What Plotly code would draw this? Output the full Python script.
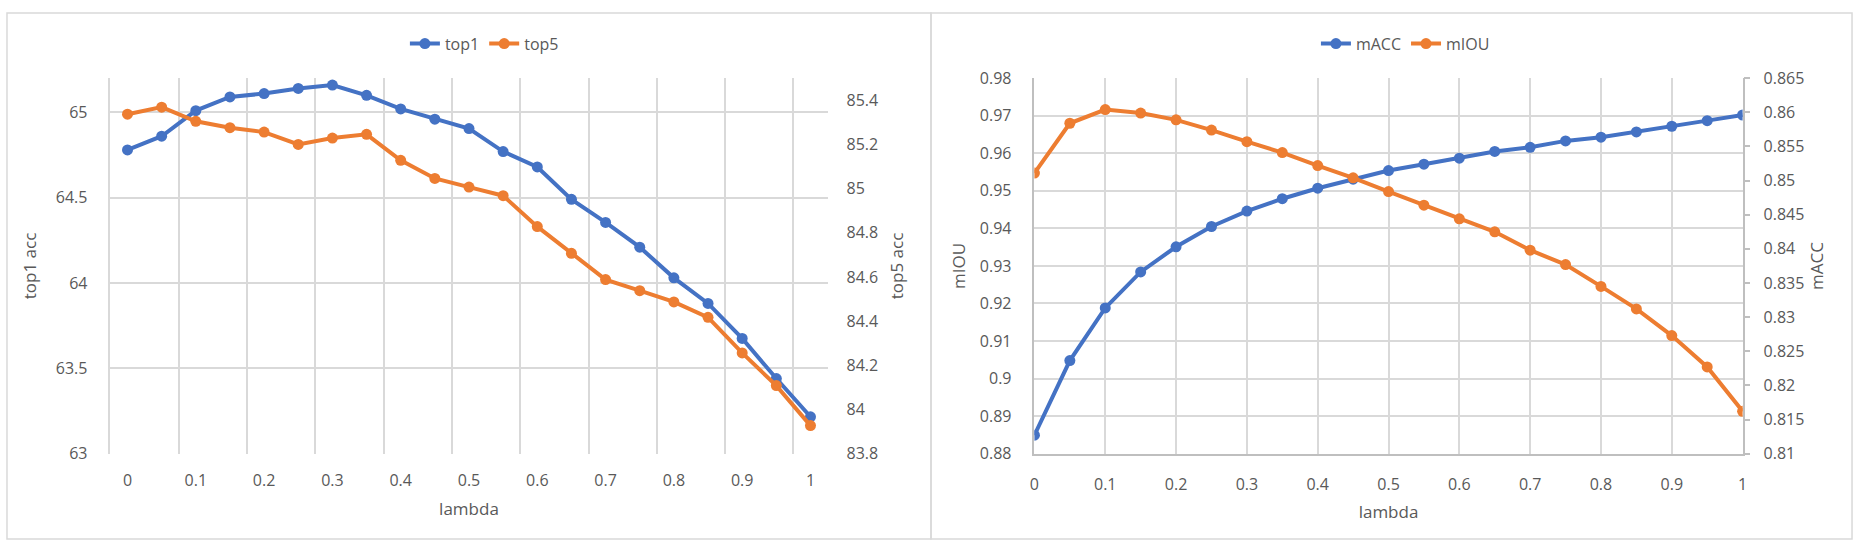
import plotly.graph_objects as go

# lambda values shared by both panels
lambdas = [0, 0.05, 0.1, 0.15, 0.2, 0.25, 0.3, 0.35, 0.4, 0.45, 0.5,
           0.55, 0.6, 0.65, 0.7, 0.75, 0.8, 0.85, 0.9, 0.95, 1]

# left panel: classification accuracy
top1 = [64.78, 64.86, 65.01, 65.09, 65.11, 65.14, 65.16, 65.10, 65.02, 64.96, 64.905,
        64.77, 64.68, 64.49, 64.355, 64.21, 64.03, 63.88, 63.675, 63.44, 63.216]
top5 = [85.337, 85.369, 85.305, 85.276, 85.256, 85.20, 85.229, 85.246, 85.128, 85.046, 85.007,
        84.968, 84.828, 84.707, 84.588, 84.538, 84.487, 84.417, 84.256, 84.108, 83.927]

# right panel: segmentation metrics
macc = [0.8849, 0.9048, 0.9188, 0.9284, 0.9351, 0.9405, 0.9446, 0.9479, 0.9507, 0.9531, 0.9554,
        0.9571, 0.9587, 0.9605, 0.9616, 0.9633, 0.9643, 0.9657, 0.9672, 0.9687, 0.9702]
miou = [0.8511, 0.8584, 0.8604, 0.8599, 0.8589, 0.8574, 0.8557, 0.8541, 0.8522, 0.8504, 0.8484,
        0.8464, 0.8444, 0.8425, 0.8398, 0.8377, 0.8345, 0.8312, 0.8273, 0.8227, 0.8162]

x_labels = ["0", "0.1", "0.2", "0.3", "0.4", "0.5", "0.6", "0.7", "0.8", "0.9", "1"]
x_label_vals = [0, 0.1, 0.2, 0.3, 0.4, 0.5, 0.6, 0.7, 0.8, 0.9, 1]
# category boundaries (Excel "between tick marks" style grid on the left panel)
x_grid_vals = [-0.025, 0.075, 0.175, 0.275, 0.375, 0.475, 0.575, 0.675, 0.775, 0.875, 0.975]

BLUE = "#4472C4"
ORANGE = "#ED7D31"
GRID = "#D9D9D9"
AXIS = "#BFBFBF"
TEXT = "#595959"
FONT = "Open Sans"

W, H = 1860, 552


def px_x(p):
    return p / W


def px_y(p):
    return 1 - p / H


fig = go.Figure()

line_style = dict(width=4)
marker_style = dict(size=11)

fig.add_trace(go.Scatter(x=lambdas, y=top1, name="top1", mode="lines+markers",
                         line=dict(color=BLUE, **line_style), marker=dict(color=BLUE, **marker_style),
                         xaxis="x", yaxis="y", legend="legend"))
fig.add_trace(go.Scatter(x=lambdas, y=top5, name="top5", mode="lines+markers",
                         line=dict(color=ORANGE, **line_style), marker=dict(color=ORANGE, **marker_style),
                         xaxis="x", yaxis="y2", legend="legend"))
fig.add_trace(go.Scatter(x=lambdas, y=macc, name="mACC", mode="lines+markers",
                         line=dict(color=BLUE, **line_style), marker=dict(color=BLUE, **marker_style),
                         xaxis="x2", yaxis="y3", legend="legend2"))
fig.add_trace(go.Scatter(x=lambdas, y=miou, name="mIOU", mode="lines+markers",
                         line=dict(color=ORANGE, **line_style), marker=dict(color=ORANGE, **marker_style),
                         xaxis="x2", yaxis="y4", legend="legend2"))

tick_font = dict(family=FONT, size=16, color=TEXT)
title_font = dict(family=FONT, size=17, color=TEXT)
legend_font = dict(family=FONT, size=16, color=TEXT)

left_dom = [px_x(106), px_x(827)]
right_dom = [px_x(1035), px_x(1747)]
y_dom = [px_y(461), px_y(70)]

fig.update_layout(
    width=W, height=H,
    margin=dict(l=0, r=0, t=0, b=0),
    paper_bgcolor="white", plot_bgcolor="white",
    font=dict(family=FONT, color=TEXT),
    xaxis=dict(
        domain=left_dom, anchor="y", range=[-0.025, 1.025],
        tickmode="array", tickvals=x_label_vals, ticktext=x_labels,
        showgrid=False, zeroline=False, ticks="", tickfont=tick_font,
        ticklabelstandoff=15,
        minor=dict(tickmode="array", tickvals=x_grid_vals, showgrid=True,
                   gridcolor=GRID, gridwidth=1.5, ticks=""),
        title=dict(text="lambda", font=title_font, standoff=13),
    ),
    yaxis=dict(
        domain=y_dom, anchor="x", range=[63, 65.2], dtick=0.5,
        showgrid=True, gridcolor=GRID, gridwidth=1.5, zeroline=False,
        showline=True, linecolor=GRID, linewidth=1.5,
        ticks="", tickfont=tick_font, ticklabelstandoff=18,
        title=dict(text="top1 acc", font=title_font, standoff=15),
    ),
    yaxis2=dict(
        overlaying="y", side="right", anchor="x", range=[83.8, 85.5], dtick=0.2,
        showgrid=False, zeroline=False, ticks="", tickfont=tick_font,
        ticklabelstandoff=18,
        title=dict(text="top5 acc", font=title_font, standoff=13),
    ),
    xaxis2=dict(
        domain=right_dom, anchor="y3", range=[0, 1],
        tickmode="array", tickvals=x_label_vals, ticktext=x_labels,
        showgrid=True, gridcolor=GRID, gridwidth=1.5, zeroline=False,
        showline=True, linecolor=AXIS, linewidth=1.5,
        ticks="", tickfont=tick_font, ticklabelstandoff=15,
        title=dict(text="lambda", font=title_font, standoff=13),
    ),
    yaxis3=dict(
        domain=y_dom, anchor="x2", range=[0.88, 0.98], dtick=0.01,
        showgrid=True, gridcolor=GRID, gridwidth=1.5, zeroline=False,
        showline=True, linecolor=AXIS, linewidth=1.5,
        ticks="", tickfont=tick_font, ticklabelstandoff=18,
        title=dict(text="mIOU", font=title_font, standoff=10),
    ),
    yaxis4=dict(
        overlaying="y3", side="right", anchor="x2", range=[0.81, 0.865], dtick=0.005,
        showgrid=False, zeroline=False,
        showline=True, linecolor=AXIS, linewidth=1.5,
        ticks="outside", ticklen=6, tickcolor=AXIS, tickwidth=1.5,
        tickfont=tick_font, ticklabelstandoff=10,
        title=dict(text="mACC", font=title_font, standoff=8),
    ),
    legend=dict(
        orientation="h", x=px_x(482), y=px_y(34), xanchor="center", yanchor="middle",
        font=legend_font, bgcolor="rgba(0,0,0,0)",
    ),
    legend2=dict(
        orientation="h", x=px_x(1408), y=px_y(34), xanchor="center", yanchor="middle",
        font=legend_font, bgcolor="rgba(0,0,0,0)",
    ),
    showlegend=True,
)

# chart-area borders of the two panels
for x0, x1 in [(2, 931), (931, 1857)]:
    fig.add_shape(type="rect", xref="paper", yref="paper",
                  x0=px_x(x0), x1=px_x(x1), y0=px_y(550), y1=px_y(2),
                  line=dict(color=GRID, width=1.5), fillcolor="rgba(0,0,0,0)", layer="below")

# drop the browser's default page margin so the figure sits at the window origin
fig.write_html("out.html", config={"displayModeBar": False},
               post_script="document.body.style.margin='0px';")
